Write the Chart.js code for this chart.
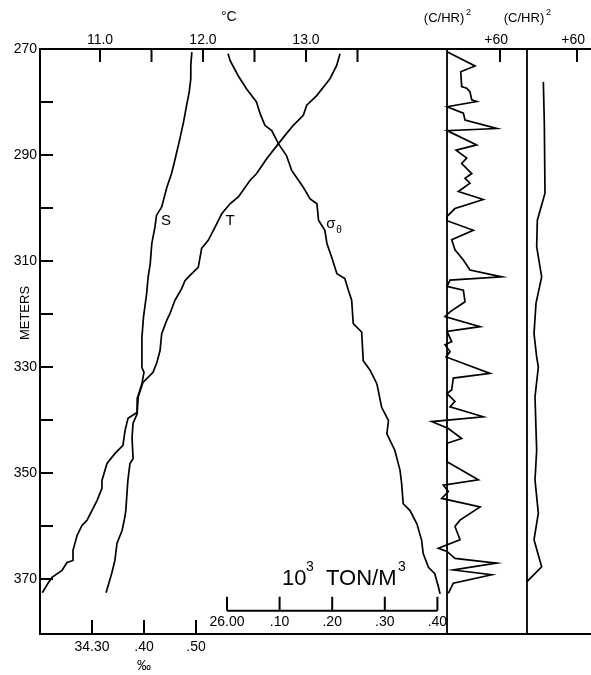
<!DOCTYPE html>
<html>
<head>
<meta charset="utf-8">
<script src="https://cdn.jsdelivr.net/npm/chart.js@4.4.1/dist/chart.umd.min.js"></script>
<style>
  html, body { margin: 0; padding: 0; background: #fff; }
  #wrap { width: 591px; height: 675px; }
</style>
</head>
<body>
<div id="wrap"><canvas id="myChart"></canvas></div>
<script>
// salinity profile (depth m, per mil)
const salDepth = [270.6, 273.1, 275.6, 278.1, 280.6, 283.8, 286.9, 290.7, 293.5, 296.1, 299.8, 301.4, 303.6, 306.7, 310.5, 313.0, 316.2, 320.6, 324.4, 326.3, 330.1, 331.0, 333.1, 335.7, 338.8, 340.6, 343.3, 347.3, 348.2, 351.4, 357.1, 358.4, 360.8, 363.3, 366.5, 368.9, 372.6];
const salValue = [34.492, 34.490, 34.490, 34.487, 34.482, 34.476, 34.469, 34.460, 34.453, 34.444, 34.434, 34.424, 34.421, 34.415, 34.412, 34.408, 34.405, 34.399, 34.396, 34.396, 34.396, 34.400, 34.396, 34.388, 34.387, 34.379, 34.377, 34.379, 34.373, 34.369, 34.365, 34.363, 34.358, 34.348, 34.344, 34.338, 34.327];

// temperature profile (depth m, deg C)
const tempDepth = [270.9, 273.1, 275.6, 278.8, 280.6, 282.5, 284.4, 286.3, 287.9, 290.7, 293.5, 294.8, 297.9, 299.2, 301.1, 303.6, 306.1, 307.6, 311.2, 312.7, 313.7, 315.2, 317.4, 319.9, 321.2, 323.7, 326.9, 329.1, 331.0, 332.9, 335.7, 338.6, 339.7, 342.0, 344.8, 346.3, 348.2, 351.4, 352.9, 355.2, 358.9, 359.9, 361.8, 364.6, 366.5, 366.9, 368.4, 369.7, 370.8, 372.6];
const tempValue = [13.330, 13.298, 13.233, 13.104, 13.007, 12.974, 12.877, 12.796, 12.731, 12.618, 12.521, 12.456, 12.343, 12.262, 12.182, 12.117, 12.051, 11.987, 11.954, 11.874, 11.825, 11.793, 11.728, 11.680, 11.648, 11.599, 11.583, 11.553, 11.515, 11.417, 11.369, 11.359, 11.272, 11.243, 11.223, 11.146, 11.068, 11.019, 11.019, 10.971, 10.874, 10.825, 10.777, 10.738, 10.738, 10.680, 10.631, 10.534, 10.495, 10.440];

// sigma-theta profile (depth m, 10^3 ton/m^3)
const denDepth = [270.9, 272.2, 275.0, 277.5, 280.0, 282.2, 284.4, 285.4, 287.9, 290.1, 292.9, 296.1, 298.3, 299.2, 302.3, 304.2, 306.7, 309.3, 312.4, 313.3, 315.6, 317.4, 321.8, 323.4, 328.8, 330.6, 333.2, 337.6, 340.1, 342.6, 345.7, 349.5, 352.0, 355.8, 357.1, 359.6, 362.7, 365.2, 367.8, 369.0, 371.5, 372.8];
const denValue = [26.002, 26.006, 26.021, 26.037, 26.056, 26.063, 26.072, 26.085, 26.098, 26.113, 26.123, 26.145, 26.158, 26.171, 26.174, 26.186, 26.190, 26.199, 26.209, 26.224, 26.231, 26.237, 26.240, 26.256, 26.259, 26.272, 26.285, 26.294, 26.307, 26.304, 26.319, 26.329, 26.332, 26.335, 26.348, 26.361, 26.370, 26.373, 26.383, 26.395, 26.402, 26.405];

// first (C/HR)^2 trace
const p1Depth = [270.5, 273.2, 274.3, 277.1, 277.4, 278.1, 279.6, 279.9, 280.9, 282.1, 283.4, 285.0, 285.4, 288.1, 289.1, 290.6, 291.6, 293.5, 294.4, 295.3, 296.9, 298.4, 300.1, 301.6, 302.4, 304.2, 306.0, 307.9, 309.8, 311.7, 313.0, 313.6, 314.8, 315.5, 317.7, 319.6, 320.5, 322.4, 323.3, 325.2, 325.8, 327.1, 328.1, 331.2, 332.1, 334.3, 335.0, 336.5, 337.5, 339.4, 340.3, 341.6, 343.5, 344.4, 347.9, 351.3, 352.3, 353.5, 354.8, 356.4, 358.9, 360.1, 362.6, 364.2, 364.8, 366.1, 367.0, 368.3, 369.2, 370.8, 372.7];
const p1Value = [0, 31.7, 15.5, 16.6, 22.3, 26, 28, 33.6, 0, 18.5, 20.4, 56.2, 0, 33.6, 10.2, 22.3, 16.6, 28, 20.4, 26, 12.8, 41, 9, 0, 0, 29.8, 5.3, 9, 18.5, 26, 62, 3.4, 0, 18.5, 20.4, 3.4, -2.3, 37.4, 0, 5.3, -2.3, 3.4, -1.1, 48.7, 7.1, 5.3, 0, 9, 3.4, 41, -17.3, 1.5, 16.6, 0, 0, 35.4, -4.2, 1.5, -6, 37.4, 14.7, 9, 14.7, -9.8, 0, 9, 56, 7.1, 50.6, 7.1, 1.5];

// second (C/HR)^2 trace
const p2Depth = [276.2, 284.0, 297.2, 302.3, 307.3, 313.0, 318.0, 323.7, 328.1, 330.0, 335.6, 345.7, 351.3, 357.6, 362.6, 367.7, 370.5];
const p2Value = [19.6, 20.8, 21.6, 12.4, 11.6, 17.6, 10.8, 8.4, 11.6, 13.6, 9.6, 11.6, 9.6, 13.6, 8.4, 17.6, 0];

// ticks
const depthTicks = [270, 280, 290, 300, 310, 320, 330, 340, 350, 360, 370];
const tempTicks = [11.0, 11.5, 12.0, 12.5, 13.0, 13.5];
const salTicks = [34.3, 34.4, 34.5];
const salLabels = ['34.30', '.40', '.50'];
const denTicks = [26.0, 26.1, 26.2, 26.3, 26.4];
const denLabels = ['26.00', '.10', '.20', '.30', '.40'];
const denAxisDepth = 376;

const FONT = '"Liberation Sans", Arial, sans-serif';

function pts(ds, vs) {
    return ds.map((d, i) => ({ x: vs[i], y: d }));
}

function line(data, xAxisID) {
    return {
        data: data, xAxisID: xAxisID, yAxisID: 'y',
        showLine: true, pointRadius: 0, borderColor: '#000',
        borderWidth: 1.7, tension: 0
    };
}

const extras = {
    id: 'extras',
    afterDraw(chart) {
        const ctx = chart.ctx;
        const a = chart.chartArea;
        const y = chart.scales.y;
        const xT = chart.scales.xTemp, xS = chart.scales.xSal, xD = chart.scales.xDen;
        const p1 = chart.scales.xP1, p2 = chart.scales.xP2;
        ctx.save();
        ctx.strokeStyle = '#000';
        ctx.fillStyle = '#000';

        // inward ticks
        ctx.lineWidth = 2;
        ctx.beginPath();
        depthTicks.forEach(v => { const py = y.getPixelForValue(v); ctx.moveTo(a.left, py); ctx.lineTo(a.left + 13, py); });
        tempTicks.forEach(v => { const px = xT.getPixelForValue(v); ctx.moveTo(px, a.top); ctx.lineTo(px, a.top + 13); });
        salTicks.forEach(v => { const px = xS.getPixelForValue(v); ctx.moveTo(px, a.bottom); ctx.lineTo(px, a.bottom - 14); });
        [p1, p2].forEach(s => { const px = s.getPixelForValue(60); ctx.moveTo(px, a.top); ctx.lineTo(px, a.top + 13); });
        ctx.stroke();

        // panel baselines
        ctx.lineWidth = 1.8;
        ctx.beginPath();
        [p1, p2].forEach(s => { const px = s.getPixelForValue(0); ctx.moveTo(px, a.top); ctx.lineTo(px, a.bottom); });
        ctx.stroke();

        // density scale drawn inside the plot
        const dy = y.getPixelForValue(denAxisDepth);
        ctx.lineWidth = 2;
        ctx.beginPath();
        ctx.moveTo(xD.getPixelForValue(denTicks[0]), dy);
        ctx.lineTo(xD.getPixelForValue(denTicks[denTicks.length - 1]), dy);
        denTicks.forEach(v => { const px = xD.getPixelForValue(v); ctx.moveTo(px, dy); ctx.lineTo(px, dy - 14); });
        ctx.stroke();
        ctx.font = '14px ' + FONT;
        ctx.textAlign = 'center';
        ctx.textBaseline = 'middle';
        denTicks.forEach((v, i) => ctx.fillText(denLabels[i], xD.getPixelForValue(v), dy + 11));

        // units
        ctx.font = '22px ' + FONT;
        ctx.textAlign = 'left';
        ctx.textBaseline = 'alphabetic';
        ctx.fillText('10', 282, 585);
        ctx.fillText('TON/M', 326, 585);
        ctx.font = '14px ' + FONT;
        ctx.fillText('3', 306, 571);
        ctx.fillText('3', 398, 571);

        ctx.font = '14px ' + FONT;
        ctx.textAlign = 'center';
        ctx.textBaseline = 'middle';
        ctx.fillText('°C', xT.getPixelForValue(12.25), 17);
        ctx.fillText('‰', xS.getPixelForValue(34.4), 666);

        [p1, p2].forEach(s => {
            const px = s.getPixelForValue(0);
            ctx.font = '13px ' + FONT;
            ctx.textAlign = 'center';
            ctx.fillText('(C/HR)', px - 3, 18);
            ctx.font = '9px ' + FONT;
            ctx.textAlign = 'left';
            ctx.fillText('2', px + 19, 13);
            ctx.font = '14px ' + FONT;
            ctx.textAlign = 'right';
            ctx.fillText('+60', s.getPixelForValue(60) + 8, 40);
        });

        // curve labels
        ctx.font = '15px ' + FONT;
        ctx.textAlign = 'center';
        ctx.fillText('S', 166, 221);
        ctx.fillText('T', 230, 221);
        ctx.fillText('σ', 331, 224);
        ctx.font = '10px ' + FONT;
        ctx.fillText('θ', 339, 230);

        // axis title
        ctx.font = '13px ' + FONT;
        ctx.translate(25, 313);
        ctx.rotate(-Math.PI / 2);
        ctx.textAlign = 'center';
        ctx.fillText('METERS', 0, 0);
        ctx.restore();
    }
};

const ctx = document.getElementById('myChart').getContext('2d');
const myChart = new Chart(ctx, {
    type: 'scatter',
    data: {
        datasets: [
            line(pts(salDepth, salValue), 'xSal'),
            line(pts(tempDepth, tempValue), 'xTemp'),
            line(pts(denDepth, denValue), 'xDen'),
            line(pts(p1Depth, p1Value), 'xP1'),
            line(pts(p2Depth, p2Value), 'xP2')
        ]
    },
    options: {
        responsive: true,
        maintainAspectRatio: false,
        animation: false,
        devicePixelRatio: 1,
        layout: { padding: 0 },
        plugins: { legend: { display: false }, tooltip: { enabled: false } },
        scales: {
            y: {
                position: 'left', reverse: true, min: 270, max: 380.38,
                afterBuildTicks: s => { s.ticks = depthTicks.map(v => ({ value: v })); },
                afterFit: s => { s.width = 40; },
                grid: { display: false, drawTicks: false },
                border: { display: true, color: '#000', width: 2 },
                ticks: {
                    padding: 3, color: '#000', font: { family: FONT, size: 14 },
                    callback: v => ((v - 270) % 20 === 0 ? String(v) : '')
                }
            },
            xTemp: {
                type: 'linear', position: 'top', min: 10.4175, max: 15.767,
                afterBuildTicks: s => { s.ticks = tempTicks.map(v => ({ value: v })); },
                afterFit: s => { s.height = 49; },
                grid: { display: false, drawTicks: false },
                border: { display: true, color: '#000', width: 2 },
                ticks: {
                    padding: 0, color: '#000', maxRotation: 0, font: { family: FONT, size: 14 },
                    callback: v => (Math.abs(v - Math.round(v)) < 1e-6 ? v.toFixed(1) : '')
                }
            },
            xSal: {
                type: 'linear', position: 'bottom', min: 34.2, max: 35.2596,
                afterBuildTicks: s => { s.ticks = salTicks.map(v => ({ value: v })); },
                afterFit: s => { s.height = 41; },
                grid: { display: false, drawTicks: false },
                border: { display: true, color: '#000', width: 2 },
                ticks: {
                    padding: 5, color: '#000', maxRotation: 0, font: { family: FONT, size: 14 },
                    callback: (v, i) => salLabels[i]
                }
            },
            xDen: { type: 'linear', display: false, min: 25.6445, max: 26.692 },
            xP1: { type: 'linear', display: false, min: -460.8, max: 163.0 },
            xP2: { type: 'linear', display: false, min: -584.4, max: 76.8 }
        }
    },
    plugins: [extras]
});
</script>
</body>
</html>
